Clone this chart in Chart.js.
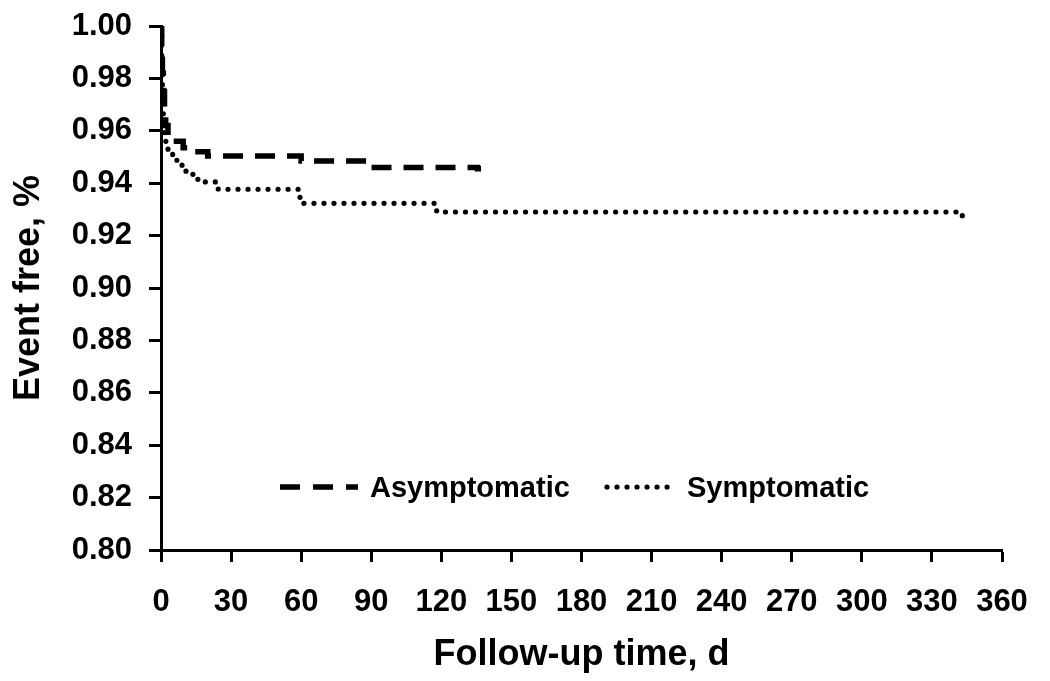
<!DOCTYPE html>
<html>
<head>
<meta charset="utf-8">
<script src="https://cdn.jsdelivr.net/npm/chart.js@4.4.1/dist/chart.umd.min.js"></script>
<style>
html,body{margin:0;padding:0;background:#ffffff;}
#wrap{width:1050px;height:681px;position:relative;}
</style>
</head>
<body>
<div id="wrap"><canvas id="c" width="1050" height="681"></canvas></div>
<script>
// ---- data ----
const xTickValues = [0, 30, 60, 90, 120, 150, 180, 210, 240, 270, 300, 330, 360];
const yTickValues = [0.80, 0.82, 0.84, 0.86, 0.88, 0.90, 0.92, 0.94, 0.96, 0.98, 1.00];
const seriesNames = ['Asymptomatic', 'Symptomatic'];
const xTitle = 'Follow-up time, d';
const yTitle = 'Event free, %';

// Asymptomatic: day of each step and survival after the step
const asymDays = [0, 0.3, 0.6, 1.0, 1.5, 2.0, 3.0, 4.6, 9.5, 12, 20, 60, 89.5, 135.5, 137];
const asymSurv = [1.000, 0.990, 0.982, 0.975, 0.968, 0.962, 0.958, 0.956, 0.9535, 0.952, 0.9504, 0.9485, 0.946, 0.9455, 0.9455];

// Symptomatic
const symDays = [0, 0.3, 0.6, 1.0, 1.5, 3.0, 5.0, 6.8, 9.0, 10.7, 15.8, 24.5, 59.5, 118, 343, 344];
const symSurv = [1.000, 0.985, 0.972, 0.962, 0.956, 0.952, 0.950, 0.9476, 0.9457, 0.9434, 0.9405, 0.9377, 0.9323, 0.929, 0.9275, 0.9275];

const toPoints = (xs, ys) => xs.map((x, i) => ({x: x, y: ys[i]}));
const FONT = 'Liberation Sans';

const legendPlugin = {
  id: 'insideLegend',
  afterDatasetsDraw(chart) {
    const ctx = chart.ctx;
    const a = chart.chartArea;
    const y = a.top + 461;
    ctx.save();
    ctx.strokeStyle = '#000';
    ctx.fillStyle = '#000';
    ctx.lineWidth = 5.5;
    ctx.lineCap = 'butt';
    ctx.setLineDash([20, 13]);
    ctx.beginPath();
    ctx.moveTo(a.left + 119, y);
    ctx.lineTo(a.left + 197, y);
    ctx.stroke();
    ctx.lineWidth = 5.2;
    ctx.lineCap = 'round';
    ctx.setLineDash([0.01, 10]);
    ctx.beginPath();
    ctx.moveTo(a.left + 446, y);
    ctx.lineTo(a.left + 516, y);
    ctx.stroke();
    ctx.setLineDash([]);
    ctx.font = 'bold 29px "' + FONT + '"';
    ctx.textBaseline = 'middle';
    ctx.textAlign = 'left';
    ctx.fillText(seriesNames[0], a.left + 209, y + 2);
    ctx.fillText(seriesNames[1], a.left + 526, y + 2);
    ctx.restore();
  }
};

new Chart(document.getElementById('c'), {
  type: 'scatter',
  data: {
    datasets: [
      {label: seriesNames[0], data: toPoints(asymDays, asymSurv), showLine: true, stepped: true, borderColor: '#000', borderWidth: 5.5, borderDash: [20, 12], borderCapStyle: 'butt', pointRadius: 0, fill: false},
      {label: seriesNames[1], data: toPoints(symDays, symSurv), showLine: true, stepped: true, borderColor: '#000', borderWidth: 5.2, borderDash: [0.01, 10], borderCapStyle: 'round', pointRadius: 0, fill: false}
    ]
  },
  options: {
    responsive: false, devicePixelRatio: 1, animation: false,
    layout: {padding: {left: 0, right: 48, top: 26, bottom: 0}},
    plugins: {legend: {display: false}, tooltip: {enabled: false}},
    scales: {
      x: {
        type: 'linear', min: 0, max: 360,
        afterBuildTicks: (s) => { s.ticks = xTickValues.map(v => ({value: v})); },
        afterFit: (s) => { s.height = 131; },
        ticks: {color: '#000', font: {family: FONT, size: 31, weight: 'bold'}, padding: 22, maxRotation: 0, autoSkip: false, callback: (v) => String(v)},
        grid: {display: true, drawOnChartArea: false, drawTicks: true, tickLength: 12, tickWidth: 3, tickColor: '#000', color: '#000'},
        border: {display: true, color: '#000', width: 3},
        title: {display: true, text: xTitle, color: '#000', font: {family: FONT, size: 36, weight: 'bold'}, padding: {top: 0, bottom: 4}}
      },
      y: {
        type: 'linear', min: 0.8, max: 1.0,
        afterBuildTicks: (s) => { s.ticks = yTickValues.map(v => ({value: v})); },
        afterFit: (s) => { s.width = 161; s.paddingTop = 0; s.paddingBottom = 0; },
        ticks: {color: '#000', font: {family: FONT, size: 31, weight: 'bold'}, padding: 17, autoSkip: false, callback: (v) => Number(v).toFixed(2)},
        grid: {display: true, drawOnChartArea: false, drawTicks: true, tickLength: 12, tickWidth: 3, tickColor: '#000', color: '#000'},
        border: {display: true, color: '#000', width: 3},
        title: {display: true, text: yTitle, color: '#000', font: {family: FONT, size: 36, weight: 'bold'}, padding: {top: 7, bottom: 0}}
      }
    }
  },
  plugins: [legendPlugin]
});
</script>
</body>
</html>
